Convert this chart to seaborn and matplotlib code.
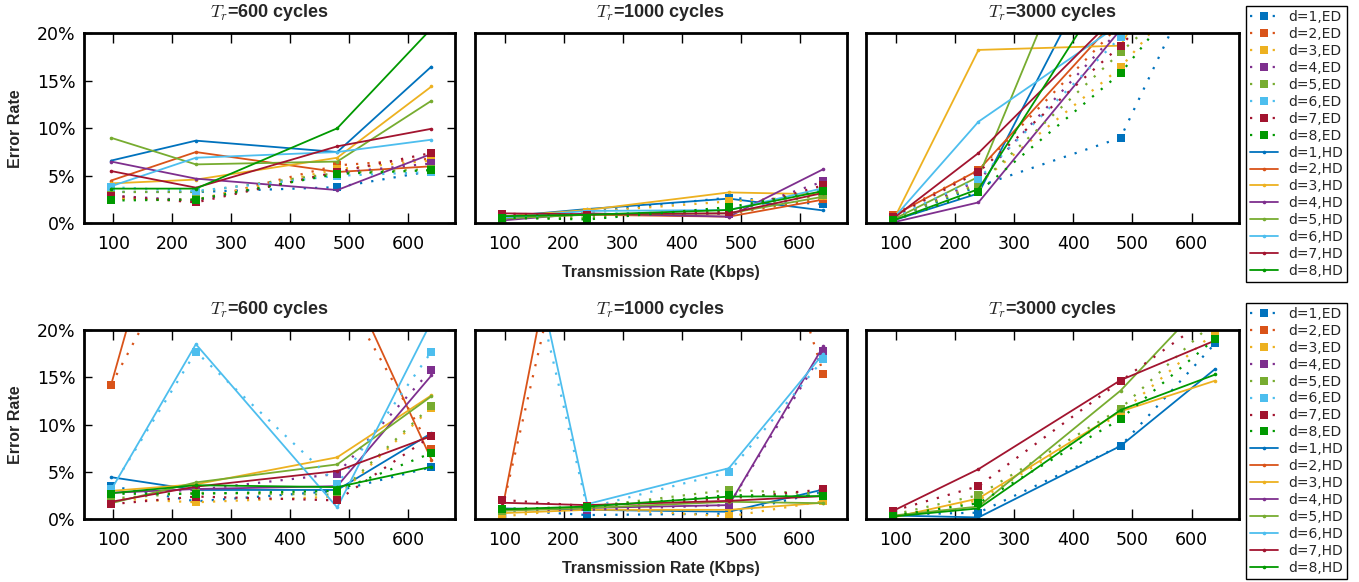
import numpy as np
import pandas as pd
import matplotlib
matplotlib.use('Agg')
import matplotlib.pyplot as plt
from matplotlib.lines import Line2D
from matplotlib.ticker import FuncFormatter
import seaborn as sns

nan = np.nan

# x positions (Kbps) shared by every series
rates = [96, 240, 480, 640]
depths = [1, 2, 3, 4, 5, 6, 7, 8]
cycles = [600, 1000, 3000]
colors = ['#0072BD', '#D95319', '#EDB120', '#7E2F8E',
          '#77AC30', '#4DBEEE', '#A2142F', '#009900']

# error rate in %, one row per depth d=1..8, columns follow `rates`
top_600_ed = [[3.3, 3.3, 3.8, 5.5], [2.6, 2.4, 6.1, 6.8], [2.6, 2.5, 5.7, 6.6],
              [2.9, 2.4, 5.3, 6.3], [3.3, 3.3, 5.3, 5.7], [3.8, 3.4, 5.0, 5.4],
              [2.9, 2.2, 5.4, 7.4], [2.4, 2.5, 5.2, 5.6]]
top_600_hd = [[6.6, 8.7, 7.5, 16.5], [4.5, 7.5, 5.4, 6.0], [4.2, 4.6, 6.9, 14.4],
              [6.5, 4.7, 3.5, 7.3], [9.0, 6.2, 6.5, 12.9], [3.9, 6.9, 7.5, 8.8],
              [5.5, 3.75, 8.1, 9.95], [3.65, 3.65, 10.0, 20.5]]
top_1000_ed = [[0.6, 1.2, 2.7, 2.0], [0.7, 0.9, 1.0, 2.6], [0.6, 1.2, 2.3, 2.9],
               [0.5, 0.9, 1.0, 4.4], [0.5, 0.6, 1.5, 3.0], [0.6, 1.0, 1.2, 3.6],
               [1.0, 0.9, 1.2, 4.0], [0.6, 0.4, 1.7, 3.4]]
top_1000_hd = [[0.7, 1.5, 2.6, 1.35], [0.65, 0.9, 0.7, 2.5], [0.7, 1.4, 3.25, 3.05],
               [0.3, 1.05, 0.7, 5.7], [0.5, 0.9, 1.05, 2.8], [0.6, 1.3, 1.4, 3.7],
               [1.05, 0.95, 1.05, 3.2], [0.75, 0.9, 1.4, 3.4]]
top_3000_ed = [[0.5, 3.9, 9.0, 30], [0.9, 5.6, 21, 30], [0.6, 4.2, 16.4, 28],
               [0.5, 4.5, 20.5, 30], [0.5, 4.1, 18.0, 27], [0.6, 4.7, 19.6, 28],
               [0.7, 5.4, 18.7, 29], [0.3, 3.3, 15.8, 28]]
top_3000_hd = [[0.3, 3.15, 32, 40], [0.8, 5.6, 22, 30], [0.3, 18.25, 18.7, 36],
               [0.1, 2.2, 20.4, 30], [0.4, 4.9, 41, 50], [0.5, 10.7, 21, 30],
               [0.5, 7.4, 22.3, 30], [0.3, 3.6, 27, 35]]

bot_600_ed = [[3.5, 1.9, 3.0, 5.5], [14.2, 31, 25, 7.4], [2.2, 1.8, 2.4, 11.8],
              [2.8, 3.1, 4.8, 15.8], [2.2, 2.8, 2.6, 12.0], [3.2, 17.7, 3.7, 17.7],
              [1.6, 2.4, 2.0, 8.8], [2.7, 2.7, 3.0, 7.0]]
bot_600_hd = [[4.45, 3.1, 3.1, 9.1], [14.2, 46, 28, 6.3], [3.0, 3.7, 6.55, 13.1],
              [2.8, 3.2, 3.5, 15.2], [1.7, 3.9, 5.8, 13.0], [3.1, 18.5, 1.25, 20.9],
              [1.85, 3.45, 5.1, 8.8], [2.75, 3.6, 3.4, 5.55]]
bot_1000_ed = [[1.0, 0.45, 0.6, 2.9], [1.0, 40, 47, 15.4], [0.3, 1.2, 0.3, 1.9],
               [1.0, 1.0, 1.5, 17.8], [0.9, 1.3, 3.1, 2.7], [40, 1.2, 5.0, 16.9],
               [2.05, 1.4, 2.2, 3.15], [1.1, 1.3, 2.55, 2.5]]
bot_1000_hd = [[1.15, 1.0, 0.8, 3.15], [1.0, 47, 40, 30], [0.65, 1.0, 1.0, 1.75],
               [1.0, 1.2, 1.5, 18.3], [0.9, 1.2, 1.85, 1.7], [43, 1.6, 5.4, 17.5],
               [1.75, 1.5, 1.95, 2.45], [1.05, 1.35, 2.4, 2.45]]
bot_3000_ed = [[0.5, 0.7, 7.75, 18.6], [nan, nan, nan, nan], [0.3, 2.0, 11.2, 19.8],
               [nan, nan, nan, nan], [0.5, 2.55, 11.7, 21.0], [nan, nan, nan, nan],
               [0.9, 3.5, 14.6, 21.8], [0.4, 1.7, 10.6, 19.1]]
bot_3000_hd = [[0.4, 0.2, 7.75, 15.9], [nan, nan, nan, nan], [0.2, 2.2, 11.4, 14.65],
               [nan, nan, nan, nan], [0.4, 1.35, 13.6, 24.2], [nan, nan, nan, nan],
               [0.9, 5.3, 14.7, 18.9], [0.3, 1.15, 11.55, 15.3]]

ED_STYLE = dict(linestyle=(0, (1, 4.1)), lw=1.6, marker='s', markersize=6,
                markeredgewidth=0)
HD_STYLE = dict(linestyle='-', lw=1.3, marker='o', markersize=2.6,
                markeredgewidth=0)

W, H = 1359, 582


def px_rect(x0, y0, x1, y1):
    return [x0 / W, 1 - y1 / H, (x1 - x0) / W, (y1 - y0) / H]


def draw_panel(ax, ed, hd):
    for i, d in enumerate(depths):
        for vals, style in ((ed[i], ED_STYLE), (hd[i], HD_STYLE)):
            if np.all(np.isnan(vals)):
                continue
            df = pd.DataFrame({'rate': rates, 'err': vals})
            sns.lineplot(data=df, x='rate', y='err', ax=ax, color=colors[i],
                         markeredgecolor=colors[i], errorbar=None, **style)


def style_axes(ax, col, row):
    ax.set_xlim(50, 680)
    ax.set_ylim(0, 20)
    ax.set_xticks([100, 200, 300, 400, 500, 600])
    ax.set_yticks([0, 5, 10, 15, 20])
    ax.yaxis.set_major_formatter(FuncFormatter(lambda v, p: f'{v:.0f}%'))
    for s in ax.spines.values():
        s.set_visible(True)
        s.set_linewidth(2.0)
        s.set_color('black')
    ax.tick_params(axis='x', direction='in', top=True, bottom=True, length=7,
                   width=1.0, pad=8.5, labelsize=12.5, colors='black')
    if col == 0:
        ax.tick_params(axis='y', direction='in', left=True, right=True, length=6,
                       width=1.0, pad=6, labelsize=12.5, colors='black')
        ax.set_ylabel('Error Rate', fontsize=11.5, fontweight='bold',
                      family='Liberation Sans')
        ax.yaxis.set_label_coords(-0.165, 0.5)
    else:
        ax.tick_params(axis='y', left=False, right=False, labelleft=False)
        ax.set_ylabel('')
    if col == 1:
        ax.set_xlabel('Transmission Rate (Kbps)', fontsize=11.5, fontweight='bold',
                      family='Liberation Sans')
        ax.xaxis.set_label_coords(0.5, -0.222)
    else:
        ax.set_xlabel('')
    ax.set_title(r'$T_r$=%d cycles' % cycles[col], fontsize=13, fontweight='bold',
                 family='Liberation Sans', pad=11.5)
    ax.set_facecolor('white')


def add_legend(fig, top_px):
    handles, labels = [], []
    for i, d in enumerate(depths):
        handles.append(Line2D([], [], color=colors[i], **ED_STYLE))
        labels.append(f'd={d},ED')
    for i, d in enumerate(depths):
        handles.append(Line2D([], [], color=colors[i], **HD_STYLE))
        labels.append(f'd={d},HD')
    fig.legend(handles, labels, loc='upper left',
               bbox_to_anchor=(1246 / W, 1 - top_px / H), borderaxespad=0,
               frameon=True, fancybox=False, edgecolor='black', framealpha=1,
               fontsize=10, handlelength=2.0, handletextpad=0.75,
               labelspacing=0.21, borderpad=0.3, numpoints=1)


def main():
    sns.set_theme(style='ticks')
    plt.rcParams['font.family'] = ['DejaVu Sans']
    plt.rcParams['mathtext.fontset'] = 'cm'

    fig = plt.figure(figsize=(W / 100, H / 100), dpi=100)
    fig.patch.set_facecolor('white')

    panels = [
        [(top_600_ed, top_600_hd), (top_1000_ed, top_1000_hd), (top_3000_ed, top_3000_hd)],
        [(bot_600_ed, bot_600_hd), (bot_1000_ed, bot_1000_hd), (bot_3000_ed, bot_3000_hd)],
    ]
    lefts = [(84, 455), (475, 847), (866, 1239)]
    rows = [(33.3, 223.3), (330, 519.3)]

    for r, (y0, y1) in enumerate(rows):
        for c, (x0, x1) in enumerate(lefts):
            ax = fig.add_axes(px_rect(x0, y0, x1, y1))
            ed, hd = panels[r][c]
            draw_panel(ax, ed, hd)
            style_axes(ax, c, r)

    add_legend(fig, 6)
    add_legend(fig, 302.7)

    fig.savefig('out.png', dpi=100)


if __name__ == "__main__":
    main()
